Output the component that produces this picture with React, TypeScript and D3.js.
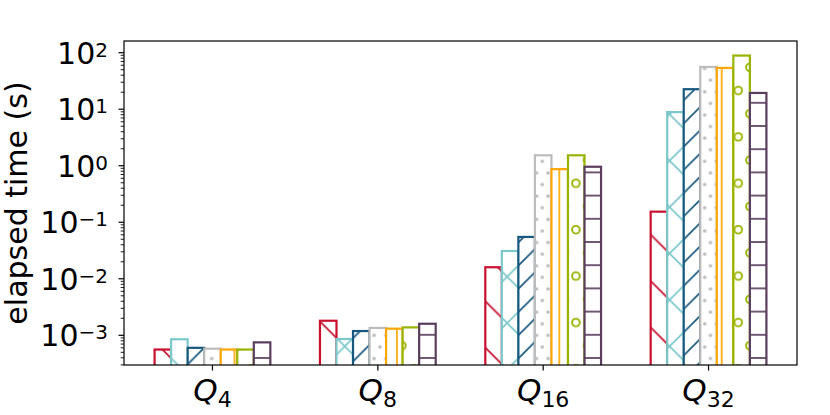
import * as d3 from 'd3';

const WIDTH = 830;
const HEIGHT = 415;

const groups = ['4', '8', '16', '32'];

// elapsed time per group (Q4, Q8, Q16, Q32), one array per method
const redTimes = [5.6e-4, 1.81e-3, 0.016, 0.154];
const tealTimes = [8.5e-4, 8.6e-4, 0.031, 8.9];
const blueTimes = [6.0e-4, 1.19e-3, 0.055, 22.6];
const grayTimes = [5.8e-4, 1.35e-3, 1.53, 56];
const orangeTimes = [5.6e-4, 1.31e-3, 0.87, 53.8];
const greenTimes = [5.6e-4, 1.38e-3, 1.53, 89];
const purpleTimes = [7.5e-4, 1.6e-3, 0.96, 19.4];

const seriesTimes = [redTimes, tealTimes, blueTimes, grayTimes, orangeTimes, greenTimes, purpleTimes];
const seriesColors = ['#c8102e', '#7bc8cb', '#17587f', '#bcbcbc', '#ffa600', '#99b400', '#5b3d5d'];
const seriesHatches = ['back', 'cross', 'fwd', 'dots', 'vert', 'rings', 'horiz'];

const yTickExponents = [-3, -2, -1, 0, 1, 2];

const left = 124;
const right = 797;
const top = 41;
const bottom = 365;
const fontSize = 30;
const S = 23.2; // hatch spacing
const barWidth = 0.1;

function Hatch({ id, kind, color }: { id: string; kind: string; color: string }) {
  const sw = 1.7;
  if (kind === 'back') {
    const T = 2 * S;
    return (
      <pattern id={id} patternUnits="userSpaceOnUse" x={0} y={1.5} width={T} height={T}>
        <path
          d={`M-2,-2L${T + 2},${T + 2}M-2,${T - 2}L2,${T + 2}M${T - 2},-2L${T + 2},2`}
          stroke={color}
          strokeWidth={sw}
          fill="none"
        />
      </pattern>
    );
  }
  if (kind === 'cross') {
    const T = 2 * S;
    return (
      <pattern id={id} patternUnits="userSpaceOnUse" x={-3.2} y={-1.7} width={T} height={T}>
        <path
          d={`M-2,-2L${T + 2},${T + 2}M-2,${T - 2}L2,${T + 2}M${T - 2},-2L${T + 2},2` +
            `M-2,${T + 2}L${T + 2},-2M-2,2L2,-2M${T - 2},${T + 2}L${T + 2},${T - 2}`}
          stroke={color}
          strokeWidth={sw}
          fill="none"
        />
      </pattern>
    );
  }
  if (kind === 'fwd') {
    const T = S;
    return (
      <pattern id={id} patternUnits="userSpaceOnUse" x={0} y={-4.8} width={T} height={T}>
        <path
          d={`M-2,${T + 2}L${T + 2},-2M-2,2L2,-2M${T - 2},${T + 2}L${T + 2},${T - 2}`}
          stroke={color}
          strokeWidth={sw}
          fill="none"
        />
      </pattern>
    );
  }
  if (kind === 'dots') {
    return (
      <pattern id={id} patternUnits="userSpaceOnUse" x={5.8} y={16.3} width={S / 2} height={S}>
        <circle cx={S / 8} cy={S / 4} r={1.8} fill={color} />
        <circle cx={(3 * S) / 8} cy={(3 * S) / 4} r={1.8} fill={color} />
      </pattern>
    );
  }
  if (kind === 'vert') {
    return (
      <pattern id={id} patternUnits="userSpaceOnUse" x={-9.1} y={0} width={S} height={S}>
        <line x1={S / 2} x2={S / 2} y1={-1} y2={S + 1} stroke={color} strokeWidth={sw} />
      </pattern>
    );
  }
  if (kind === 'rings') {
    return (
      <pattern id={id} patternUnits="userSpaceOnUse" x={13.3} y={32.5} width={S} height={2 * S}>
        <circle cx={S / 4} cy={S / 2} r={3.8} stroke={color} strokeWidth={1.9} fill="none" />
        <circle cx={(3 * S) / 4} cy={(3 * S) / 2} r={3.8} stroke={color} strokeWidth={1.9} fill="none" />
      </pattern>
    );
  }
  return (
    <pattern id={id} patternUnits="userSpaceOnUse" x={0} y={-1.6} width={S} height={S}>
      <line x1={-1} x2={S + 1} y1={S / 2} y2={S / 2} stroke={color} strokeWidth={sw} />
    </pattern>
  );
}

export default function App() {
  const x = d3.scaleLinear().domain([-0.535, 3.535]).range([left, right]);
  const y = d3.scaleLog().domain([10 ** -3.5255, 10 ** 2.207]).range([bottom, top]);

  const [yMin, yMax] = y.domain();
  const minorTicks: number[] = [];
  for (let e = -4; e <= 2; e++) {
    for (let k = 2; k <= 9; k++) {
      const v = k * 10 ** e;
      if (v >= yMin && v <= yMax) minorTicks.push(v);
    }
  }

  return (
    <svg
      width={WIDTH}
      height={HEIGHT}
      style={{ position: 'absolute', left: 0, top: 0, background: '#fff' }}
      fontFamily="'DejaVu Sans', sans-serif"
    >
      <defs>
        {seriesHatches.map((kind, i) => (
          <Hatch key={kind} id={`hatch-${kind}`} kind={kind} color={seriesColors[i]} />
        ))}
        <clipPath id="plot-clip">
          <rect x={left} y={top} width={right - left} height={bottom - top} />
        </clipPath>
      </defs>

      <g clipPath="url(#plot-clip)">
        {seriesTimes.map((values, si) =>
          values.map((v, gi) => {
            const cx = x(gi + (si - 3) * barWidth);
            const w = x(barWidth) - x(0);
            const yt = y(v);
            return (
              <g key={`${si}-${gi}`}>
                <rect x={cx - w / 2} y={yt} width={w} height={bottom + 10 - yt} fill="#fff" />
                <rect
                  x={cx - w / 2}
                  y={yt}
                  width={w}
                  height={bottom + 10 - yt}
                  fill={`url(#hatch-${seriesHatches[si]})`}
                  stroke={seriesColors[si]}
                  strokeWidth={2.2}
                />
              </g>
            );
          })
        )}
      </g>

      <rect x={left} y={top} width={right - left} height={bottom - top} fill="none" stroke="#000" strokeWidth={1.2} />

      {minorTicks.map((v) => (
        <line key={v} x1={left - 3.3} x2={left} y1={y(v)} y2={y(v)} stroke="#000" strokeWidth={0.9} />
      ))}
      {yTickExponents.map((e) => {
        const ty = y(10 ** e);
        return (
          <g key={e}>
            <line x1={left - 5.5} x2={left} y1={ty} y2={ty} stroke="#000" strokeWidth={1.2} />
            <text x={108} y={ty + 10.9} fontSize={fontSize} textAnchor="end" fill="#000">
              10
              <tspan fontSize={20} dy={-7}>
                {e < 0 ? `\u2212${-e}` : `${e}`}
              </tspan>
            </text>
          </g>
        );
      })}

      {groups.map((g, gi) => (
        <g key={g}>
          <line x1={x(gi)} x2={x(gi)} y1={bottom} y2={bottom + 5.5} stroke="#000" strokeWidth={1.2} />
          <text x={x(gi)} y={401} fontSize={31} textAnchor="middle" fill="#000">
            <tspan fontStyle="italic">Q</tspan>
            <tspan fontSize={22} dy={6}>
              {g}
            </tspan>
          </text>
        </g>
      ))}

      <text
        transform={`translate(27,${(top + bottom) / 2}) rotate(-90)`}
        fontSize={fontSize}
        textAnchor="middle"
        fill="#000"
      >
        elapsed time (s)
      </text>
    </svg>
  );
}
